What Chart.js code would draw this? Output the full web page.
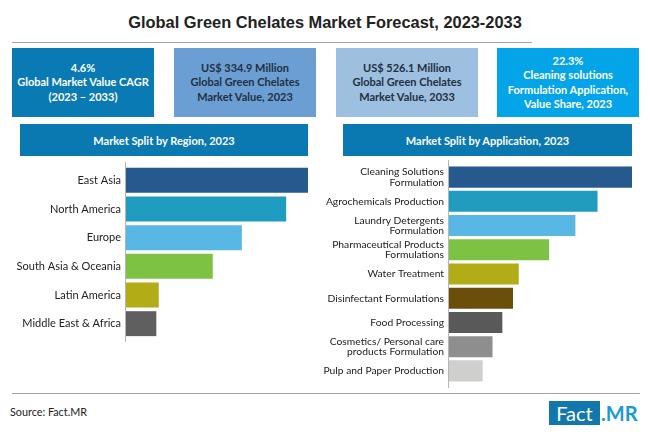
<!DOCTYPE html>
<html>
<head>
<meta charset="utf-8">
<script src="https://cdn.jsdelivr.net/npm/chart.js@4"></script>
<style>
  html, body { margin: 0; padding: 0; background: #fff; }
  body { width: 650px; height: 434px; position: relative; overflow: hidden; font-family: Lato, "Open Sans", sans-serif; }
  #title { position: absolute; left: 0; width: 650px; top: 13px; text-align: center; font: bold 16.4px "Liberation Sans", sans-serif; color: #222; }
  .rule { position: absolute; height: 1px; background: #a5a5a5; }
  .box { position: absolute; top: 48px; width: 142px; height: 69px; display: flex; align-items: center; justify-content: center; text-align: center; font-weight: bold; font-size: 11px; line-height: 14.3px; white-space: nowrap; }
  .banner { position: absolute; top: 124px; height: 32px; background: #0a78b1; color: #fff; display: flex; align-items: center; justify-content: center; font-weight: bold; font-size: 11px; }
  canvas { position: absolute; }
  #source { position: absolute; left: 10px; top: 405px; font-size: 10.8px; color: #222; }
  #logoA { position: absolute; left: 549px; top: 401px; width: 51px; height: 24px; background: #1177ac; color: #fff; font-size: 20px; line-height: 24px; text-align: center; }
  #logoB { position: absolute; left: 601px; top: 401px; color: #1a9ad6; font-size: 20px; line-height: 24px; font-weight: bold; }
</style>
</head>
<body>
<div id="title">Global Green Chelates Market Forecast, 2023-2033</div>
<div class="rule" style="left:12px;width:520px;top:42px"></div>

<div class="box" style="left:12px;background:#0a7ab5;color:#fff">4.6%<br>Global Market Value CAGR<br>(2023 – 2033)</div>
<div class="box" style="left:174px;background:#6b9fd4;color:#22303f">US$ 334.9 Million<br>Global Green Chelates<br>Market Value, 2023</div>
<div class="box" style="left:336px;background:#9dbfe0;color:#22303f">US$ 526.1 Million<br>Global Green Chelates<br>Market Value, 2033</div>
<div class="box" style="left:497px;background:#04a5e8;color:#fff">22.3%<br>Cleaning solutions<br>Formulation Application,<br>Value Share, 2023</div>

<div class="banner" style="left:20px;width:288px">Market Split by Region, 2023</div>
<div class="banner" style="left:343px;width:289px">Market Split by Application, 2023</div>

<canvas id="chartRegion" style="left:0;top:162px;width:309px;height:180px"></canvas>
<canvas id="chartApp" style="left:320px;top:160px;width:313px;height:228px"></canvas>

<div class="rule" style="left:12px;width:628px;top:393px"></div>
<div id="source">Source: Fact.MR</div>
<div id="logoA">Fact</div>
<div id="logoB">.MR</div>

<script>
var regionLabels = ['East Asia', 'North America', 'Europe', 'South Asia & Oceania', 'Latin America', 'Middle East & Africa'];
var regionValues = [30, 26.4, 19.1, 14.3, 5.4, 5.0];
var regionColors = ['#265a8f', '#1f9cc0', '#59b7e6', '#7dc242', '#b2ac17', '#5f5f5f'];

var appLabels = [
  ['Cleaning Solutions', 'Formulation'],
  'Agrochemicals Production',
  ['Laundry Detergents', 'Formulation'],
  ['Pharmaceutical Products', 'Formulations'],
  'Water Treatment',
  'Disinfectant Formulations',
  'Food Processing',
  ['Cosmetics/ Personal care', 'products Formulation'],
  'Pulp and Paper Production'
];
var appValues = [22.3, 18.1, 15.4, 12.2, 8.5, 7.8, 6.5, 5.3, 4.1];
var appColors = ['#265a8f', '#1f9cc0', '#59b7e6', '#7dc242', '#b2ac17', '#6b4e09', '#595959', '#8e8e8e', '#cfcfcd'];

// axis line runs a little past the first and last bar
var axisLine = {
  id: 'axisLine',
  afterDraw: function(chart) {
    var c = chart.ctx, x = Math.round(chart.scales.x.getPixelForValue(0)) - 0.5;
    c.save();
    c.strokeStyle = '#b5b5b5';
    c.lineWidth = 1;
    c.beginPath();
    c.moveTo(x, 0);
    c.lineTo(x, chart.height);
    c.stroke();
    c.restore();
  }
};

function makeChart(id, labels, values, colors, maxValue, axisWidth, pad, fontSize, lineHeight) {
  return new Chart(document.getElementById(id).getContext('2d'), {
    type: 'bar',
    data: {
      labels: labels,
      datasets: [{ data: values, backgroundColor: colors, categoryPercentage: 1, barPercentage: 0.87 }]
    },
    plugins: [axisLine],
    options: {
      indexAxis: 'y',
      responsive: false,
      animation: false,
      layout: { autoPadding: false, padding: { top: pad, bottom: pad, left: 0, right: 1 } },
      plugins: { legend: { display: false }, tooltip: { enabled: false } },
      scales: {
        x: { display: false, min: 0, max: maxValue },
        y: {
          grid: { display: false, drawTicks: false },
          border: { display: false },
          afterFit: function(scale) {
            scale.width = axisWidth;
            // no room kept for half a label above and below
            scale.paddingTop = 0;
            scale.paddingBottom = 0;
          },
          ticks: {
            color: '#222',
            padding: 5,
            autoSkip: false,
            font: { family: 'Lato', size: fontSize, lineHeight: lineHeight }
          }
        }
      }
    }
  });
}

document.getElementById('chartRegion').width = 309;
document.getElementById('chartRegion').height = 180;
document.getElementById('chartApp').width = 313;
document.getElementById('chartApp').height = 228;

makeChart('chartRegion', regionLabels, regionValues, regionColors, 30, 126, 4, 11, 1.2);
makeChart('chartApp', appLabels, appValues, appColors, 22.3, 129, 5, 10.3, 1.0);
</script>
</body>
</html>
